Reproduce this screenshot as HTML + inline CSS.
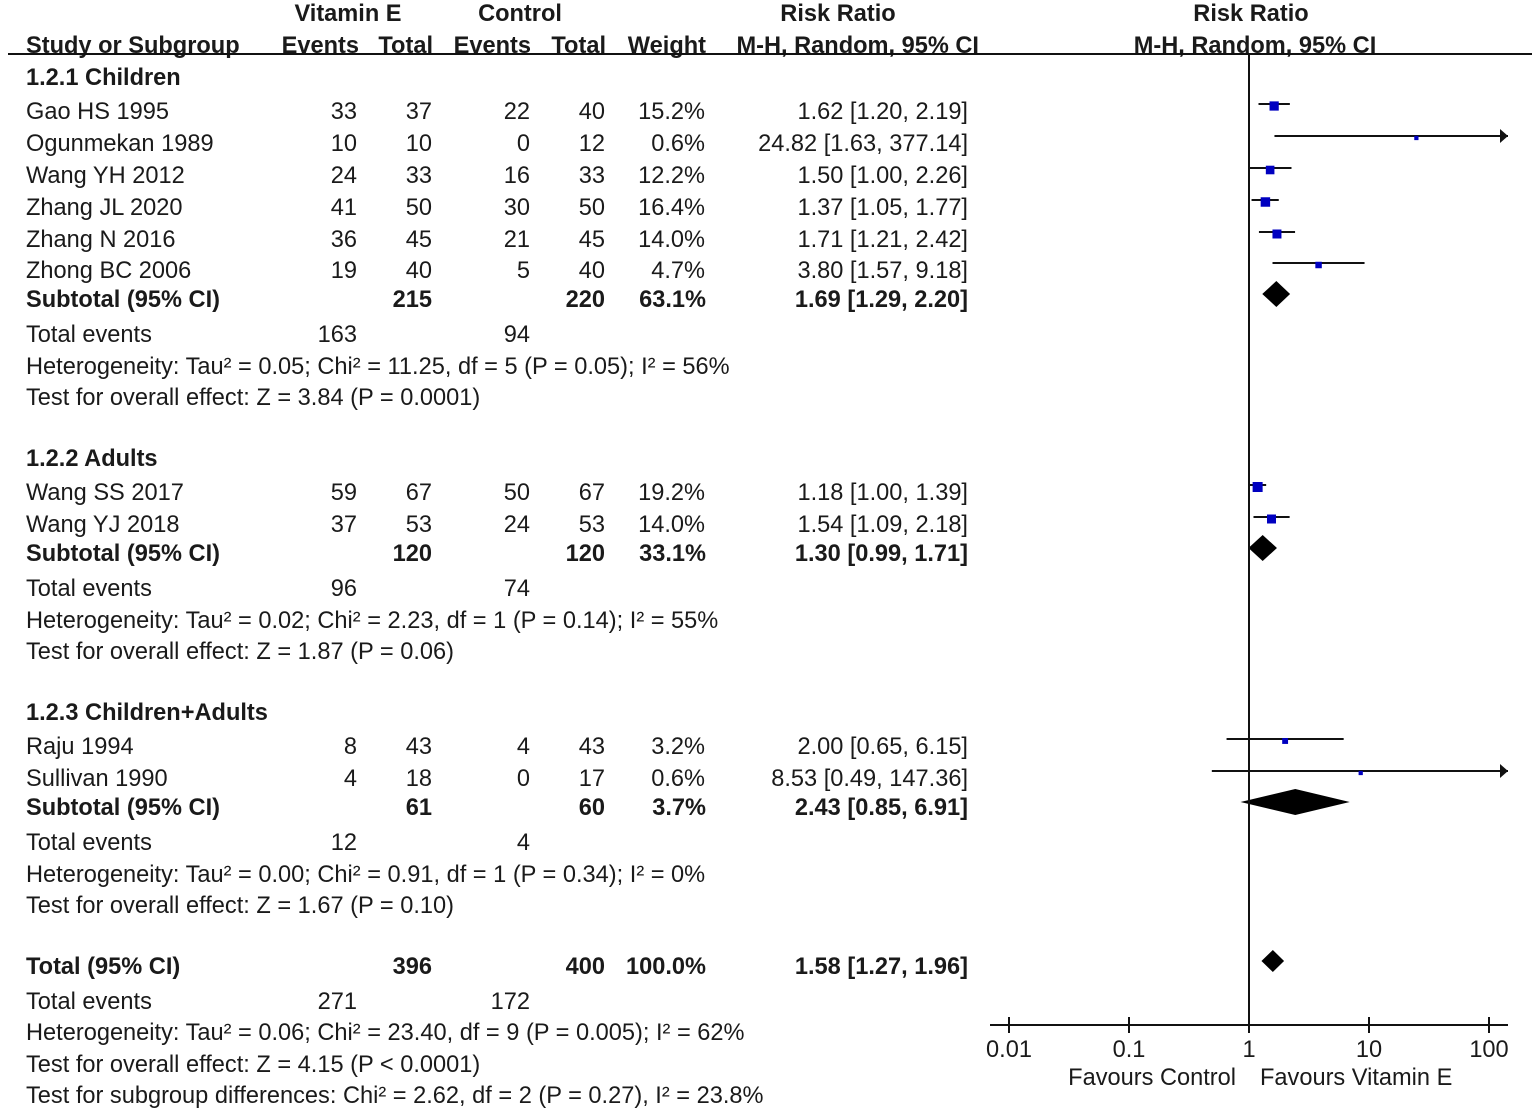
<!DOCTYPE html>
<html><head><meta charset="utf-8"><style>
body{margin:0;background:#fff}
svg{display:block;font-family:"Liberation Sans",Arial,sans-serif;font-size:23.6px;fill:#1a1a1a}
.b{font-weight:bold}
</style></head><body>
<svg id="c" width="1535" height="1108" viewBox="0 0 1535 1108">
<g id="txt"></g>
<g id="plot"></g>
</svg>
<script>
const studyNames=["Gao HS 1995","Ogunmekan 1989","Wang YH 2012","Zhang JL 2020","Zhang N 2016","Zhong BC 2006","Wang SS 2017","Wang YJ 2018","Raju 1994","Sullivan 1990"];
const studyY=[111,143,175,207,239,270,492,524,746,778];
const evE=[33,10,24,41,36,19,59,37,8,4];
const totE=[37,10,33,50,45,40,67,53,43,18];
const evC=[22,0,16,30,21,5,50,24,4,0];
const totC=[40,12,33,50,45,40,67,53,43,17];
const weights=[15.2,0.6,12.2,16.4,14.0,4.7,19.2,14.0,3.2,0.6];
const rr=[1.62,24.82,1.50,1.37,1.71,3.80,1.18,1.54,2.00,8.53];
const lo=[1.20,1.63,1.00,1.05,1.21,1.57,1.00,1.09,0.65,0.49];
const hi=[2.19,377.14,2.26,1.77,2.42,9.18,1.39,2.18,6.15,147.36];
const subY=[299,553,807,966];
const subLabel=["Subtotal (95% CI)","Subtotal (95% CI)","Subtotal (95% CI)","Total (95% CI)"];
const subTotE=[215,120,61,396];
const subTotC=[220,120,60,400];
const subW=["63.1%","33.1%","3.7%","100.0%"];
const subRR=[1.69,1.30,2.43,1.58];
const subLo=[1.29,0.99,0.85,1.27];
const subHi=[2.20,1.71,6.91,1.96];
const ticks=[0.01,0.1,1,10,100];
const tickLabels=["0.01","0.1","1","10","100"];

const NS="http://www.w3.org/2000/svg";
const T=document.getElementById('txt'),P=document.getElementById('plot');
function mk(par,tag,a,txt){const e=document.createElementNS(NS,tag);for(const k in a)e.setAttribute(k,a[k]);if(txt!==undefined)e.textContent=txt;par.appendChild(e);return e;}
function tx(x,y,s,anchor,bold,name){const e=mk(T,'text',{x:x,y:y+8,'text-anchor':anchor||'start'},s);if(bold)e.setAttribute('class','b');


return e;}
const X0=1249,DEC=120;
function xs(v){return X0+DEC*Math.log10(v);}
const XMIN=990,XMAX=1508;
const f2=v=>v.toFixed(2);

tx(348,13,"Vitamin E","middle",1,'header-vitamin-e');
tx(520,13,"Control","middle",1,'header-control');
tx(838,13,"Risk Ratio","middle",1,'header-risk-ratio');
tx(1251,13,"Risk Ratio","middle",1,'header-risk-ratio-plot');
tx(26,45,"Study or Subgroup","start",1,'header-study');
tx(359,45,"Events","end",1,'header-events-e');
tx(433,45,"Total","end",1,'header-total-e');
tx(531,45,"Events","end",1,'header-events-c');
tx(606,45,"Total","end",1,'header-total-c');
tx(706,45,"Weight","end",1,'header-weight');
tx(979,45,"M-H, Random, 95% CI","end",1,'header-ci');
tx(1255,45,"M-H, Random, 95% CI","middle",1,'header-ci-plot');
let hl=mk(P,'line',{x1:8,y1:54,x2:1532,y2:54,stroke:'#111','stroke-width':2});



tx(26,77,"1.2.1 Children","start",1,'group-children');
tx(26,458,"1.2.2 Adults","start",1,'group-adults');
tx(26,712,"1.2.3 Children+Adults","start",1,'group-children-adults');

for(let i=0;i<studyNames.length;i++){
  const y=studyY[i];
  tx(26,y,studyNames[i],"start",0,'study-name');
  tx(357,y,evE[i],"end",0,'events-e');
  tx(432,y,totE[i],"end",0,'total-e');
  tx(530,y,evC[i],"end",0,'events-c');
  tx(605,y,totC[i],"end",0,'total-c');
  tx(705,y,weights[i].toFixed(1)+"%","end",0,'weight');
  tx(968,y,f2(rr[i])+" ["+f2(lo[i])+", "+f2(hi[i])+"]","end",0,'risk-ratio-ci');
  const ly=y-7;
  let x1=Math.max(XMIN,xs(lo[i])),x2=Math.min(XMAX,xs(hi[i]));
  const l=mk(P,'line',{x1:x1,y1:ly,x2:x2,y2:ly,stroke:'#111','stroke-width':2});
  
  
  if(xs(hi[i])>XMAX){const a=mk(P,'polygon',{points:`${XMAX},${ly} ${XMAX-8},${ly-7} ${XMAX-8},${ly+7}`,fill:'#111'});
    
    }
  const s=3+1.6*Math.sqrt(weights[i]);
  const r=mk(P,'rect',{x:xs(rr[i])-s/2,y:ly+2-s/2,width:s,height:s,fill:'#0000c0'});
  
  
}
for(let i=0;i<subY.length;i++){
  const y=subY[i];
  tx(26,y,subLabel[i],"start",1,'subtotal-label');
  tx(432,y,subTotE[i],"end",1,'subtotal-total-e');
  tx(605,y,subTotC[i],"end",1,'subtotal-total-c');
  tx(706,y,subW[i],"end",1,'subtotal-weight');
  tx(968,y,f2(subRR[i])+" ["+f2(subLo[i])+", "+f2(subHi[i])+"]","end",1,'subtotal-ci');
  const cy=y-5,h=i==3?11:13;
  const d=mk(P,'polygon',{points:`${xs(subLo[i])},${cy} ${xs(subRR[i])},${cy-h} ${xs(subHi[i])},${cy} ${xs(subRR[i])},${cy+h}`,fill:'#000'});
  
  
}
const extra=[
[334,"Total events"],[366,"Heterogeneity: Tau² = 0.05; Chi² = 11.25, df = 5 (P = 0.05); I² = 56%"],[397,"Test for overall effect: Z = 3.84 (P = 0.0001)"],
[588,"Total events"],[620,"Heterogeneity: Tau² = 0.02; Chi² = 2.23, df = 1 (P = 0.14); I² = 55%"],[651,"Test for overall effect: Z = 1.87 (P = 0.06)"],
[842,"Total events"],[874,"Heterogeneity: Tau² = 0.00; Chi² = 0.91, df = 1 (P = 0.34); I² = 0%"],[905,"Test for overall effect: Z = 1.67 (P = 0.10)"],
[1001,"Total events"],[1032,"Heterogeneity: Tau² = 0.06; Chi² = 23.40, df = 9 (P = 0.005); I² = 62%"],[1064,"Test for overall effect: Z = 4.15 (P < 0.0001)"],[1095,"Test for subgroup differences: Chi² = 2.62, df = 2 (P = 0.27), I² = 23.8%"]];
extra.forEach(e=>tx(26,e[0],e[1],"start",0,'summary-line'));
const teY=[334,588,842,1001],teE=[163,96,12,271],teC=[94,74,4,172];
teY.forEach((y,i)=>{tx(357,y,teE[i],"end",0,'total-events-e');tx(530,y,teC[i],"end",0,'total-events-c');});

const ax=mk(P,'line',{x1:XMIN,y1:1025,x2:XMAX,y2:1025,stroke:'#111','stroke-width':2});


const vl=mk(P,'line',{x1:xs(1),y1:54,x2:xs(1),y2:1025,stroke:'#111','stroke-width':2});


ticks.forEach((t,i)=>{
  const tk=mk(P,'line',{x1:xs(t),y1:1017,x2:xs(t),y2:1033,stroke:'#111','stroke-width':2});
  
  
  tx(xs(t),1049,tickLabels[i],"middle",0,'x-tick-label');
});
tx(1236,1077,"Favours Control","end",0,'favours-control');
tx(1260,1077,"Favours Vitamin E","start",0,'favours-vitamin-e');
</script>
</body></html>
